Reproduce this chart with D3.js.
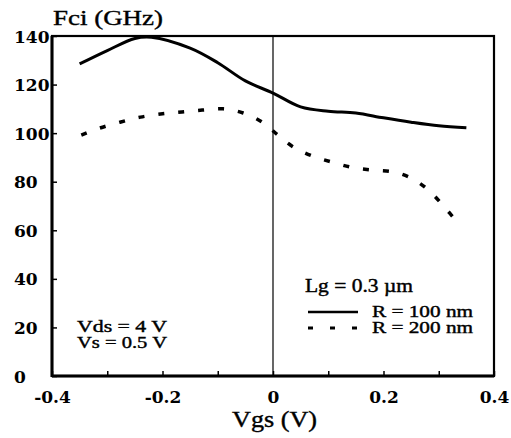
<!DOCTYPE html>
<html>
<head>
<meta charset="utf-8">
<script src="https://cdn.jsdelivr.net/npm/d3@7"></script>
<style>
  body { margin: 0; background: #fff; }
  svg { display: block; }
  .tick text { font-family: "DejaVu Serif", serif; font-weight: bold; font-size: 17px; fill: #000; }
  .lbl { font-family: "Liberation Serif", "Times New Roman", serif; fill: #000; stroke: #000; stroke-width: 0.4px; }
</style>
</head>
<body>
<div id="chart"></div>
<script>
// R = 100 nm (solid)
var vgs100 = [-0.35, -0.3, -0.25, -0.22, -0.15, -0.1, -0.05, 0, 0.05, 0.1, 0.15, 0.2, 0.25, 0.3, 0.35];
var fci100 = [128.5, 134, 139, 139.5, 135, 129, 121.5, 116.5, 110.8, 109, 108.3, 106.3, 104.5, 103, 102.2];

// R = 200 nm (dashed)
var vgs200 = [-0.347, -0.315, -0.277, -0.24, -0.2, -0.165, -0.128, -0.09, -0.054, -0.02, 0.009, 0.036, 0.071, 0.108, 0.145, 0.181, 0.219, 0.254, 0.284, 0.31, 0.335];
var fci200 = [99.2, 102, 104.5, 106.6, 108, 108.7, 109.5, 110, 108.3, 104.6, 99.2, 94.4, 90.6, 88, 85.8, 84.8, 84, 81, 76, 69.6, 63];

var xTicks = [-0.4, -0.3, -0.2, -0.1, 0, 0.1, 0.2, 0.3, 0.4];
var xTickLabels = ["-0.4", "", "-0.2", "", "0", "", "0.2", "", "0.4"];
var yTicks = [0, 20, 40, 60, 80, 100, 120, 140];

var width = 511, height = 438;
var plotLeft = 52, plotRight = 494, plotTop = 36, plotBottom = 376;

var svg = d3.select("#chart").append("svg")
    .attr("width", width)
    .attr("height", height);

var x = d3.scaleLinear().domain([-0.4, 0.4]).range([plotLeft, plotRight]);
var y = d3.scaleLinear().domain([0, 140]).range([plotBottom, plotTop]);

// x axis, ticks pointing inward
var xAxis = d3.axisBottom(x)
    .tickValues(xTicks)
    .tickSizeInner(-5)
    .tickSizeOuter(0)
    .tickPadding(0)
    .tickFormat(function(d, i) { return xTickLabels[i]; });

var gx = svg.append("g")
    .attr("transform", "translate(0," + plotBottom + ")")
    .call(xAxis);
gx.select(".domain").remove();
gx.selectAll(".tick line").attr("stroke", "#000").attr("stroke-width", 1.5);
gx.selectAll(".tick text").attr("y", 27).attr("dy", 0);

// y axis, ticks inward, labels left-aligned
var yAxis = d3.axisLeft(y)
    .tickValues(yTicks)
    .tickSizeInner(-5)
    .tickSizeOuter(0)
    .tickFormat(d3.format("d"));

var gy = svg.append("g")
    .attr("transform", "translate(" + plotLeft + ",0)")
    .call(yAxis);
gy.select(".domain").remove();
gy.selectAll(".tick line").attr("stroke", "#000").attr("stroke-width", 1.5);
gy.selectAll(".tick text")
    .attr("x", 14 - plotLeft)
    .attr("text-anchor", "start")
    .attr("dy", "0.36em");

// frame
svg.append("rect")
    .attr("x", plotLeft).attr("y", plotTop)
    .attr("width", plotRight - plotLeft).attr("height", plotBottom - plotTop)
    .attr("fill", "none")
    .attr("stroke", "#000")
    .attr("stroke-width", 2.2);
svg.append("line")
    .attr("x1", plotLeft).attr("x2", plotLeft)
    .attr("y1", plotTop).attr("y2", plotBottom + 1)
    .attr("stroke", "#000").attr("stroke-width", 3);
svg.append("line")
    .attr("x1", plotLeft).attr("x2", plotRight)
    .attr("y1", plotBottom).attr("y2", plotBottom)
    .attr("stroke", "#000").attr("stroke-width", 3);

// vertical line at Vgs = 0
svg.append("line")
    .attr("x1", x(0)).attr("x2", x(0))
    .attr("y1", plotTop).attr("y2", plotBottom)
    .attr("stroke", "#000").attr("stroke-width", 1.2);

var line = d3.line()
    .x(function(d) { return x(d[0]); })
    .y(function(d) { return y(d[1]); })
    .curve(d3.curveCatmullRom);

svg.append("path")
    .datum(d3.zip(vgs100, fci100))
    .attr("d", line)
    .attr("fill", "none")
    .attr("stroke", "#000")
    .attr("stroke-width", 3);

svg.append("path")
    .datum(d3.zip(vgs200, fci200))
    .attr("d", line)
    .attr("fill", "none")
    .attr("stroke", "#000")
    .attr("stroke-width", 3.5)
    .attr("stroke-dasharray", "6,14");

// labels
function label(txt, px, py, size, len) {
  svg.append("text")
      .attr("class", "lbl")
      .attr("x", px).attr("y", py)
      .attr("font-size", size)
      .attr("textLength", len)
      .attr("lengthAdjust", "spacingAndGlyphs")
      .text(txt);
}
label("Fci (GHz)", 53, 25, 22, 110);
label("Vgs (V)", 232, 427, 23, 85);
label("Vds = 4 V", 77, 332, 16, 90);
label("Vs = 0.5 V", 77, 348, 16, 90);
label("Lg = 0.3 µm", 305, 292, 18, 108);
label("R = 100 nm", 372, 317, 16, 101);
label("R = 200 nm", 372, 333, 16, 101);

// legend samples
svg.append("line")
    .attr("x1", 308).attr("x2", 358)
    .attr("y1", 312).attr("y2", 312)
    .attr("stroke", "#000").attr("stroke-width", 2.5);
svg.append("line")
    .attr("x1", 308).attr("x2", 370)
    .attr("y1", 328).attr("y2", 328)
    .attr("stroke", "#000").attr("stroke-width", 3)
    .attr("stroke-dasharray", "5,17");
</script>
</body>
</html>
